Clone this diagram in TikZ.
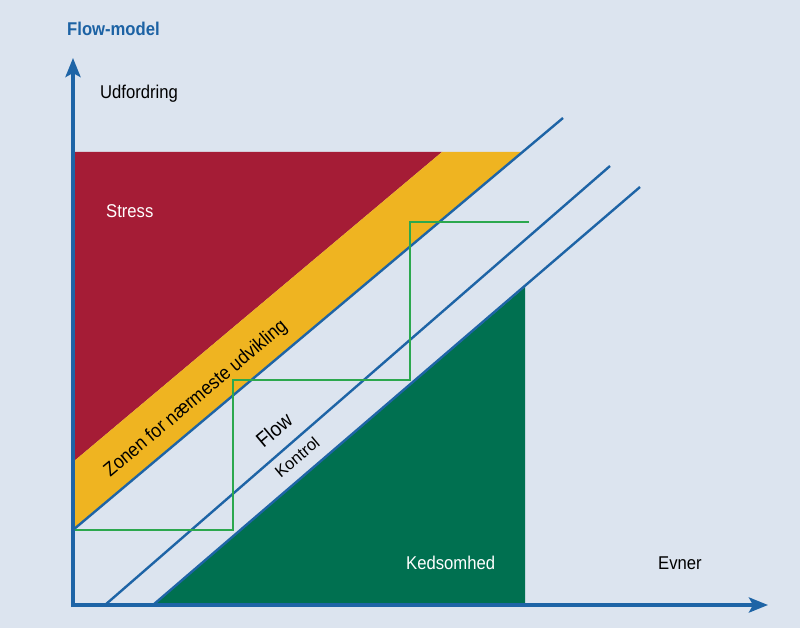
\documentclass[tikz,border=0pt]{standalone}
\usepackage{fontspec}
\setmainfont{Liberation Sans}[FakeStretch=0.9]
\newfontfamily\kfont{Liberation Sans}
\usetikzlibrary{arrows.meta}
\definecolor{bg}{RGB}{220,228,239}
\definecolor{axisblue}{RGB}{30,100,166}
\definecolor{stressred}{RGB}{165,28,54}
\definecolor{zoneorange}{RGB}{239,180,33}
\definecolor{boregreen}{RGB}{0,112,80}
\definecolor{stepgreen}{RGB}{44,168,78}
\definecolor{titleblue}{RGB}{28,98,164}
\tikzset{
  axisline/.style={draw=axisblue,line width=4pt,-{Stealth[length=19pt,width=15pt,inset=4pt]}},
  diagline/.style={draw=axisblue,line width=2.4pt},
  stepline/.style={draw=stepgreen,line width=2.6pt},
  lbl/.style={inner sep=0pt,font=\fontsize{18.5}{20}\selectfont},
}
\begin{document}
\begin{tikzpicture}[x=1pt,y=-1pt]
\useasboundingbox[fill=bg] (0,0) rectangle (800,628);
% corner coordinates
\coordinate (O) at (73,605);
\coordinate (ytip) at (73,58);
\coordinate (xtip) at (768,605);
\coordinate (ybot) at (73,607);
\coordinate (xleft) at (71,605);
\coordinate (rTL) at (73,152);
\coordinate (rTR) at (442,152);
\coordinate (rBL) at (73,462);
\coordinate (oTR) at (522,152);
\coordinate (oBL) at (73,530);
\coordinate (l1end) at (563,118);
\coordinate (l2start) at (105,605);
\coordinate (l2end) at (610,166);
\coordinate (gBL) at (153,605);
\coordinate (gBR) at (525,605);
\coordinate (gTR) at (525,287);
\coordinate (l3end) at (640,187);
\coordinate (s1) at (233,530);
\coordinate (s2) at (233,380);
\coordinate (s3) at (410,380);
\coordinate (s4) at (410,222);
\coordinate (s5) at (529,222);
% regions
\fill[stressred] (rTL) -- (rTR) -- (rBL) -- cycle;
\fill[zoneorange] (rBL) -- (rTR) -- (oTR) -- (oBL) -- cycle;
\fill[boregreen] (gBL) -- (gBR) -- (gTR) -- cycle;
% diagonal lines
\draw[diagline] (oBL) -- (l1end);
\draw[diagline] (l2start) -- (l2end);
\draw[diagline] (gBL) -- (l3end);
% step line
\draw[stepline] (oBL) -- (s1) -- (s2) -- (s3) -- (s4) -- (s5);
% axes
\draw[axisline] (ybot) -- (ytip);
\draw[axisline] (xleft) -- (xtip);
% texts
\node[lbl,text=titleblue,font=\bfseries\fontsize{18.5}{20}\selectfont,anchor=base west] (title) at (67,36) {Flow-model};
\node[lbl,anchor=base west] (udf) at (100,99) {Udfordring};
\node[lbl,text=white,anchor=base west] (stress) at (106,218) {Stress};
\node[lbl,rotate=40,font=\fontsize{19.5}{21}\selectfont] (zone) at (196,399) {Zonen for nærmeste udvikling};
\node[lbl,rotate=40,font=\fontsize{21}{22}\selectfont] (flow) at (274,430) {Flow};
\node[lbl,rotate=40,font=\kfont\fontsize{16.5}{18}\selectfont] (kontrol) at (297,457) {Kontrol};
\node[lbl,text=white,anchor=base west] (keds) at (406,569) {Kedsomhed};
\node[lbl,anchor=base west] (evner) at (658,569) {Evner};
\end{tikzpicture}
\end{document}
